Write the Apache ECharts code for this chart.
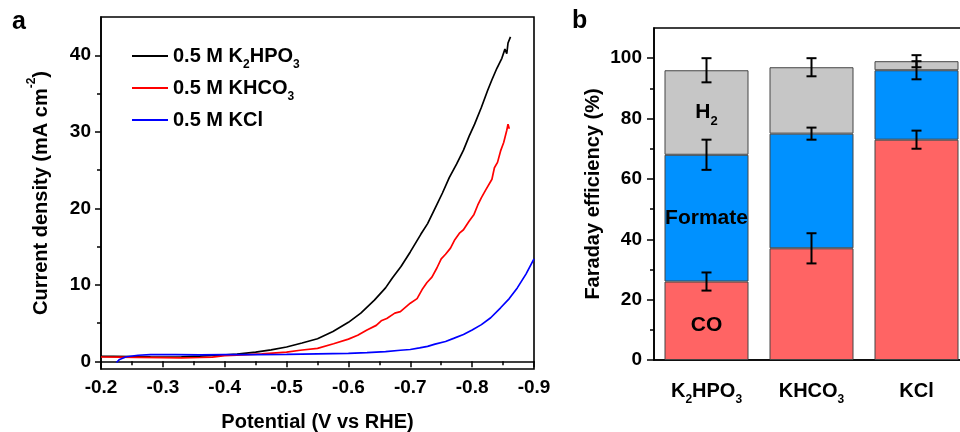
<!DOCTYPE html>
<html>
<head>
<meta charset="utf-8">
<script src="https://cdn.jsdelivr.net/npm/echarts@6/dist/echarts.min.js"></script>
<style>
  html, body { margin: 0; padding: 0; background: #fff; }
  #chart { width: 960px; height: 432px; }
</style>
</head>
<body>
<div id="chart"></div>
<script>
// Panel a: linear sweep voltammetry, [potential V vs RHE, current density mA cm^-2]
const k2hpo3Lsv = [
  [-0.200, 0.65], [-0.220, 0.66], [-0.250, 0.62], [-0.280, 0.58], [-0.300, 0.57],
  [-0.330, 0.60], [-0.360, 0.68], [-0.390, 0.80], [-0.420, 0.95], [-0.450, 1.20],
  [-0.475, 1.50], [-0.500, 1.87], [-0.525, 2.40], [-0.550, 2.96], [-0.575, 3.90],
  [-0.600, 5.10], [-0.620, 6.30], [-0.642, 8.00], [-0.660, 9.60], [-0.671, 10.9],
  [-0.685, 12.4], [-0.700, 14.3], [-0.717, 16.6], [-0.728, 18.0], [-0.740, 20.0],
  [-0.752, 22.0], [-0.763, 24.0], [-0.775, 25.8], [-0.786, 27.6], [-0.795, 29.4],
  [-0.804, 31.0], [-0.815, 33.2], [-0.825, 35.4], [-0.832, 36.8], [-0.840, 38.3],
  [-0.848, 39.6], [-0.853, 40.8], [-0.856, 40.2], [-0.858, 41.6], [-0.862, 42.4]
];
const khco3Lsv = [
  [-0.200, 0.57], [-0.230, 0.55], [-0.260, 0.52], [-0.300, 0.48], [-0.330, 0.45],
  [-0.360, 0.50], [-0.380, 0.55], [-0.400, 0.75], [-0.430, 0.85], [-0.460, 0.98],
  [-0.500, 1.20], [-0.522, 1.45], [-0.550, 1.70], [-0.576, 2.30], [-0.600, 2.90],
  [-0.615, 3.40], [-0.630, 4.10], [-0.645, 4.70], [-0.653, 5.30], [-0.662, 5.60],
  [-0.675, 6.30], [-0.684, 6.50], [-0.700, 7.60], [-0.711, 8.20], [-0.720, 9.50],
  [-0.727, 10.3], [-0.735, 11.0], [-0.743, 12.2], [-0.750, 13.4], [-0.757, 14.0],
  [-0.765, 14.8], [-0.772, 15.9], [-0.780, 16.8], [-0.786, 17.2], [-0.795, 18.3],
  [-0.803, 19.2], [-0.809, 20.4], [-0.815, 21.4], [-0.822, 22.4], [-0.832, 23.8],
  [-0.836, 25.3], [-0.841, 26.0], [-0.846, 27.5], [-0.851, 28.6], [-0.854, 28.4],
  [-0.856, 30.2], [-0.858, 31.0], [-0.860, 30.4]
];
const kclLsv = [
  [-0.225, -0.15], [-0.230, 0.25], [-0.241, 0.60], [-0.260, 0.80], [-0.280, 0.87],
  [-0.320, 0.88], [-0.360, 0.85], [-0.400, 0.87], [-0.450, 0.88], [-0.500, 0.92],
  [-0.550, 0.98], [-0.600, 1.05], [-0.630, 1.15], [-0.660, 1.28], [-0.684, 1.45],
  [-0.700, 1.55], [-0.715, 1.75], [-0.728, 1.95], [-0.740, 2.25], [-0.757, 2.60],
  [-0.770, 3.00], [-0.786, 3.50], [-0.800, 4.10], [-0.815, 4.80], [-0.830, 5.70],
  [-0.846, 7.00], [-0.860, 8.20], [-0.873, 9.60], [-0.887, 11.4], [-0.900, 13.4]
];
const lsvNames = ['0.5 M K2HPO3', '0.5 M KHCO3', '0.5 M KCl'];
const lsvColors = ['#000000', '#ff0000', '#0000ff'];
const currentTicks = [0, 10, 20, 30, 40];
const currentMinorTicks = [5, 15, 25, 35];

// Panel b: Faraday efficiency (%) per product, with error bars
const electrolytes = ['K2HPO3', 'KHCO3', 'KCl'];
const products = ['CO', 'Formate', 'H2'];
const feCO = [26, 37, 73];
const feFormate = [42, 38, 23];
const feH2 = [28, 22, 3];
const errCO = [3, 5, 3];
const errFormate = [5, 2, 3];
const errH2 = [4, 3, 2];
const feTicks = [0, 20, 40, 60, 80, 100];
const feMinorTicks = [10, 30, 50, 70, 90];
const productColors = ['#ff6464', '#0091ff', '#c6c6c6'];

const FONT = '"Liberation Sans", Arial, sans-serif';
const subStyle = { fontSize: 12, lineHeight: 12, verticalAlign: 'bottom', fontWeight: 'bold', fontFamily: FONT, color: '#000' };
const supStyle = { fontSize: 12, lineHeight: 12, verticalAlign: 'top', fontWeight: 'bold', fontFamily: FONT, color: '#000' };
// digits that follow an element symbol are drawn as subscripts
const withSubs = s => s.replace(/(\d)(?!\.)/g, (m, d, off) => (off > 0 && /[A-Z]/.test(s[off - 1])) ? '{sub|' + d + '}' : d);

const feSeries = [feCO, feFormate, feH2];
const feErrors = [errCO, errFormate, errH2];
const stackTop = (k, i) => feSeries.slice(0, k + 1).reduce((acc, arr) => acc + arr[i], 0);

const tickLabel = { color: '#000', fontSize: 19, fontWeight: 'bold', fontFamily: FONT };
const axisLine = { show: true, lineStyle: { color: '#000', width: 1.6 } };

const chart = echarts.init(document.getElementById('chart'), null, { renderer: 'canvas' });

const option = {
  animation: false,
  backgroundColor: '#fff',
  graphic: [
    { type: 'text', x: 12, y: 35, style: { text: 'a', font: 'bold 25px ' + FONT, fill: '#000', textVerticalAlign: 'bottom' } },
    { type: 'text', x: 572, y: 34, style: { text: 'b', font: 'bold 25px ' + FONT, fill: '#000', textVerticalAlign: 'bottom' } }
  ],
  legend: {
    left: 127, top: 36, orient: 'vertical',
    icon: 'rect', itemWidth: 36, itemHeight: 2, itemGap: 2,
    data: lsvNames,
    formatter: name => withSubs(name),
    textStyle: {
      color: '#000', fontSize: 20, fontWeight: 'bold', fontFamily: FONT, lineHeight: 30,
      rich: { sub: subStyle }
    }
  },
  grid: [
    { left: 101, top: 17, width: 433, height: 352, outerBoundsMode: 'none', containLabel: false,
      show: true, borderColor: '#000', borderWidth: 1.6, backgroundColor: 'transparent' },
    { left: 654, top: 28, width: 315, bottom: 72, outerBoundsMode: 'none', containLabel: false,
      show: true, borderColor: '#000', borderWidth: 1.6, backgroundColor: 'transparent' }
  ],
  xAxis: [
    {
      gridIndex: 0, type: 'value', min: -0.9, max: -0.2, interval: 0.1, inverse: true,
      axisLine: axisLine, splitLine: { show: false },
      axisTick: { show: true, length: 6, lineStyle: { color: '#000', width: 1.5 } },
      minorTick: { show: true, splitNumber: 2, length: 4, lineStyle: { color: '#000', width: 1.5 } },
      axisLabel: Object.assign({ margin: 9, formatter: v => v.toFixed(1) }, tickLabel),
      name: 'Potential (V vs RHE)', nameLocation: 'middle', nameGap: 43,
      nameTextStyle: { color: '#000', fontSize: 20, fontWeight: 'bold', fontFamily: FONT }
    },
    {
      gridIndex: 1, type: 'category', data: electrolytes,
      axisLine: axisLine, axisTick: { show: false },
      axisLabel: {
        interval: 0, margin: 16, color: '#000', fontSize: 20, fontWeight: 'bold', fontFamily: FONT, lineHeight: 30,
        formatter: v => withSubs(v), rich: { sub: subStyle }
      }
    }
  ],
  yAxis: [
    {
      gridIndex: 0, type: 'value', min: -1, max: 45, position: 'left',
      axisLine: axisLine, splitLine: { show: false },
      axisTick: { show: true, length: 6, customValues: currentTicks, lineStyle: { color: '#000', width: 1.5 } },
      axisLabel: Object.assign({ margin: 10, customValues: currentTicks }, tickLabel),
      name: 'Current density (mA cm{sup|-2})', nameLocation: 'middle', nameGap: 45,
      nameTextStyle: {
        color: '#000', fontSize: 20, fontWeight: 'bold', fontFamily: FONT, lineHeight: 30,
        rich: { sup: supStyle }
      }
    },
    {
      gridIndex: 0, type: 'value', min: -1, max: 45, position: 'left', offset: 0,
      axisLine: { show: false }, splitLine: { show: false }, axisLabel: { show: false },
      axisTick: { show: true, length: 4, customValues: currentMinorTicks, lineStyle: { color: '#000', width: 1.5 } }
    },
    {
      gridIndex: 1, type: 'value', min: 0, max: 110, position: 'left',
      axisLine: axisLine, splitLine: { show: false },
      axisTick: { show: true, length: 7, customValues: feTicks, lineStyle: { color: '#000', width: 1.5 } },
      axisLabel: Object.assign({ margin: 12, customValues: feTicks }, tickLabel),
      name: 'Faraday efficiency (%)', nameLocation: 'middle', nameGap: 51,
      nameTextStyle: { color: '#000', fontSize: 20, fontWeight: 'bold', fontFamily: FONT }
    },
    {
      gridIndex: 1, type: 'value', min: 0, max: 110, position: 'left', offset: 0,
      axisLine: { show: false }, splitLine: { show: false }, axisLabel: { show: false },
      axisTick: { show: true, length: 4, customValues: feMinorTicks, lineStyle: { color: '#000', width: 1.5 } }
    }
  ],
  series: [
    ...[k2hpo3Lsv, khco3Lsv, kclLsv].map((data, k) => ({
      name: lsvNames[k], type: 'line', xAxisIndex: 0, yAxisIndex: 0,
      data: data, symbol: 'none', smooth: false,
      lineStyle: { color: lsvColors[k], width: 1.7 }, itemStyle: { color: lsvColors[k] }
    })),
    ...products.map((p, k) => ({
      name: p, type: 'bar', stack: 'fe', xAxisIndex: 1, yAxisIndex: 2,
      data: feSeries[k], barWidth: '80%',
      itemStyle: { color: productColors[k], borderColor: '#444', borderWidth: 1 },
      label: {
        show: true, position: 'inside', offset: [0, k === 0 ? 4 : 0],
        color: '#000', fontSize: 21, fontWeight: 'bold', fontFamily: FONT, lineHeight: 30,
        formatter: prm => prm.dataIndex === 0 ? withSubs(p) : '',
        rich: { sub: Object.assign({}, subStyle, { fontSize: 13, lineHeight: 13 }) }
      }
    })),
    ...products.map((p, k) => ({
      name: p + ' error', type: 'custom', xAxisIndex: 1, yAxisIndex: 2, z: 10,
      data: electrolytes.map((e, i) => [i, stackTop(k, i), feErrors[k][i]]),
      encode: { x: 0, y: 1 },
      renderItem: (params, api) => {
        const i = api.value(0), c = api.value(1), e = api.value(2);
        const hi = api.coord([i, c + e]);
        const lo = api.coord([i, c - e]);
        const hw = 5;
        const st = { stroke: '#000', lineWidth: 2 };
        return {
          type: 'group',
          children: [
            { type: 'line', shape: { x1: hi[0], y1: hi[1], x2: lo[0], y2: lo[1] }, style: st },
            { type: 'line', shape: { x1: hi[0] - hw, y1: hi[1], x2: hi[0] + hw, y2: hi[1] }, style: st },
            { type: 'line', shape: { x1: lo[0] - hw, y1: lo[1], x2: lo[0] + hw, y2: lo[1] }, style: st }
          ]
        };
      }
    }))
  ]
};

chart.setOption(option);
</script>
</body>
</html>
